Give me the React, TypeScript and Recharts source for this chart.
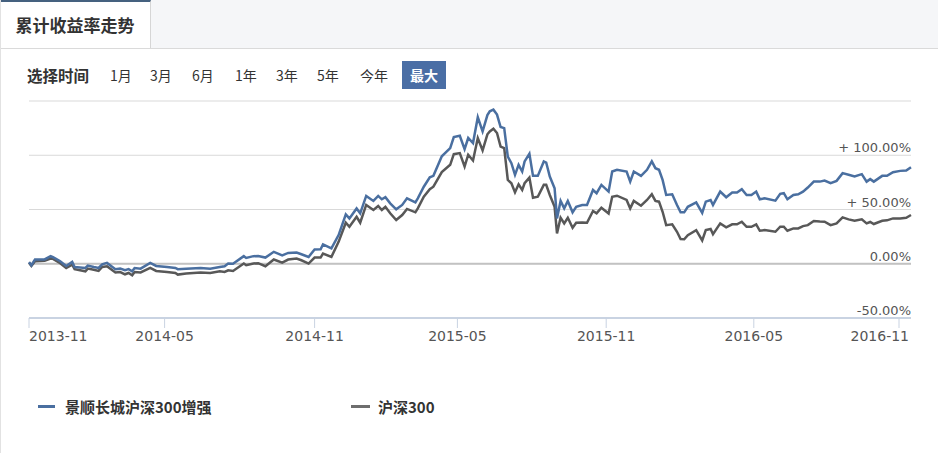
import React from 'react';
import { LineChart, Line, XAxis, YAxis, CartesianGrid, ReferenceLine } from 'recharts';

// trading-day index since 2013-11 (x), cumulative return in % (y)
const days = [
  0, 2, 5, 13, 18, 20, 26, 31, 36, 38,
  47, 49, 54, 58, 61, 65, 72, 76, 80, 83,
  86, 88, 93, 101, 106, 115, 122, 124, 131, 143,
  151, 159, 163, 166, 170, 179, 181, 187, 191, 197,
  204, 211, 216, 223, 227, 233, 238, 243, 245, 252,
  258, 264, 267, 273, 276, 281, 287, 291, 294, 297,
  301, 306, 311, 315, 322, 324, 329, 334, 337, 344,
  351, 354, 359, 363, 366, 370, 374, 378, 382, 384,
  387, 390, 393, 396, 399, 402, 405, 408, 411, 413,
  417, 420, 424, 429, 431, 434, 438, 440, 443, 446,
  449, 453, 456, 461, 465, 470, 473, 477, 483, 486,
  490, 498, 501, 504, 510, 515, 519, 522, 525, 528,
  531, 536, 540, 543, 546, 549, 556, 561, 564, 568,
  570, 576, 581, 586, 590, 594, 598, 602, 606, 609,
  613, 622, 626, 629, 632, 637, 641, 645, 649, 654,
  659, 663, 668, 673, 678, 683, 688, 694, 698, 701,
  704, 711, 715, 720, 726, 731, 735,
];

const fundReturn = [
  1.5, -1.4, 4, 4, 7, 6, 2.3, -2, 1.7, -3,
  -3.9, -1.7, -3, -3.9, -0.5, 0.8, -5, -4.5, -6, -5,
  -7, -3.9, -4.5, 0.8, -2, -3, -3.9, -5, -4.5, -3.9,
  -4.5, -3, -2.3, 0.2, 0, 7, 5.4, 7, 7.2, 5.7,
  11, 7.8, 10, 10.4, 8.8, 6.3, 13.1, 13.4, 17.8, 14.1,
  26.4, 45.5, 41.8, 51, 46.5, 62.5, 57.9, 62.5, 59.4, 61.3,
  55.7, 50.2, 54.2, 60.3, 56.6, 60.3, 71, 79.7, 81, 99,
  106.6, 116.8, 118, 105.6, 115.9, 111.2, 135, 122, 137, 140.5,
  142, 137.5, 126, 125, 98.8, 92.7, 81.9, 91.2, 85, 94.3,
  101.4, 81, 81, 94.3, 93.3, 80.4, 69.6, 41.8, 57.9, 51,
  57.9, 47.4, 52.5, 54.2, 54.2, 68, 65, 72.7, 66.5, 85,
  86.6, 85, 75.7, 85, 81, 86.6, 94.3, 88.1, 86.6, 77.3,
  63.4, 64, 54.2, 47.4, 47.4, 52.5, 56.6, 46.8, 57.2, 58.8,
  54.2, 66.5, 61.3, 65.6, 65.6, 68.7, 63.4, 63.4, 66.5, 59.4,
  60.3, 58.1, 64.4, 65, 59.4, 63.4, 64, 66.5, 70.2, 75.7,
  75.7, 76.7, 74.2, 76.4, 83.5, 82, 80.4, 82.6, 75.7, 78,
  75.7, 81, 81, 84.4, 85.6, 85.9, 89,
];

const indexReturn = [
  1, -2, 2.3, 2.8, 4.8, 4.5, 0.5, -3.9, -0.8, -5,
  -7, -4.5, -5.5, -6.6, -3, -2.3, -8, -7.6, -9.7, -8.5,
  -10.6, -7.6, -8, -3.9, -6.6, -7.6, -8.5, -10, -9, -8,
  -8.5, -7, -7.6, -6, -6.6, 0.2, -1.4, 0.2, 0.5, -2.3,
  3.9, 1.1, 3.9, 4.8, 3.2, 0.2, 5.7, 5.7, 9.4, 6.3,
  20.2, 37.8, 34.1, 43.3, 37.8, 54.2, 49.5, 53.2, 49.5, 52.5,
  46.5, 40.3, 44.9, 50.5, 47.4, 51, 61.8, 68.7, 71, 84.4,
  91.2, 101, 102, 89.6, 100.5, 95.2, 115.9, 104.5, 119.3, 122,
  124.5, 120.5, 108, 106.6, 77.3, 74.2, 65.8, 73.2, 68, 74.2,
  79.4, 60.8, 61.8, 72.7, 72.7, 63.4, 52.5, 27.9, 42.4, 37.2,
  42.4, 33.1, 37.8, 38, 37.8, 48.6, 46.4, 51.7, 46.4, 61.8,
  62.7, 58.8, 51, 57.9, 53.5, 58.8, 64, 57.9, 57.2, 47.9,
  35.6, 36.3, 29.5, 22.7, 22.5, 26.4, 31, 21.5, 31, 32,
  27.3, 37.2, 33.5, 36.3, 36.3, 38.7, 34.1, 34.1, 36.3, 30.4,
  31, 29.5, 34.1, 34.1, 30.4, 32.6, 32.6, 34.7, 35.6, 39.4,
  38.9, 38.7, 35.6, 37.2, 42.7, 40.9, 39.6, 40.9, 37.2, 38.5,
  36.6, 39.6, 40, 41.8, 41.8, 42.4, 44.9,
];

const tickDays = [0, 113, 238, 357, 481, 604, 725];
const tickLabels = ['2013-11', '2014-05', '2014-11', '2015-05', '2015-11', '2016-05', '2016-11'];
const yTicks = [-50, 0, 50, 100, 150];
const seriesNames = ['景顺长城沪深300增强', '沪深300'];
const periods = ['1月', '3月', '6月', '1年', '3年', '5年', '今年', '最大'];

const BLUE = '#4a6fa0';
const GRAY = '#585858';
const CHART_W = 938;
const MARGIN = { top: 101, right: 26, left: 29, bottom: 12 };
const PLOT_RIGHT = 911;
const LABEL_FONT = '"DejaVu Sans", Verdana, sans-serif';
const CJK_FONT = '"Noto Sans CJK SC", "Noto Sans", sans-serif';

const data = days.map((d, i) => ({ day: d, fund: fundReturn[i], hs300: indexReturn[i] }));

const formatY = (v: number) => {
  if (v === 150) return '';
  if (v > 0) return `+ ${v.toFixed(2)}%`;
  return `${v.toFixed(2)}%`;
};

const XTick = (props: any) => {
  const { x, y, payload, index } = props;
  const label = tickLabels[tickDays.indexOf(payload.value)] || '';
  let anchor: 'start' | 'middle' | 'end' = 'middle';
  let tx = x;
  if (index === 0) anchor = 'start';
  if (index === tickDays.length - 1) {
    anchor = 'end';
    tx = PLOT_RIGHT - 2;
  }
  return (
    <text x={tx} y={y + 11} textAnchor={anchor} fill="#555" fontSize={14} fontFamily={LABEL_FONT}>
      {label}
    </text>
  );
};

const YTick = (props: any) => {
  const { y, payload } = props;
  return (
    <text x={PLOT_RIGHT} y={y - 3} textAnchor="end" fill="#555" fontSize={13} fontFamily={LABEL_FONT}>
      {formatY(payload.value)}
    </text>
  );
};

const periodLeft = [110, 150, 192, 235, 276, 317, 360, 402];

export default function App() {
  return (
    <div style={{ position: 'absolute', left: 0, top: 0, width: 938, height: 453, background: '#fff', overflow: 'hidden', fontFamily: CJK_FONT }}>
      {/* header strip */}
      <div style={{ position: 'absolute', left: 0, top: 0, width: 938, height: 48, background: '#f5f6f8', borderBottom: '1px solid #dadada' }} />
      <div style={{ position: 'absolute', left: 0, top: 0, width: 151, height: 48, background: '#fff', borderTop: '2px solid #45617f', borderRight: '1px solid #d6d6d6', boxSizing: 'border-box', textAlign: 'center', lineHeight: '46px', fontSize: 17, fontWeight: 700, color: '#333' }}>
        累计收益率走势
      </div>
      <div style={{ position: 'absolute', left: 0, top: 0, width: 1, height: 453, background: '#e2e2e2' }} />

      {/* period selector */}
      <div style={{ position: 'absolute', left: 27, top: 61, lineHeight: '28px', fontSize: 15.5, fontWeight: 700, color: '#333' }}>选择时间</div>
      {periods.map((p, i) => {
        const active = i === periods.length - 1;
        return (
          <div
            key={p}
            style={{
              position: 'absolute',
              left: periodLeft[i],
              top: 61,
              height: 28,
              lineHeight: '28px',
              fontSize: 14,
              color: active ? '#fff' : '#333',
              background: active ? '#4a6ea5' : 'transparent',
              padding: active ? '0 8px' : 0,
              fontWeight: active ? 700 : 400,
            }}
          >
            {p}
          </div>
        );
      })}

      {/* chart */}
      <div style={{ position: 'absolute', left: 0, top: 0 }}>
        <LineChart width={CHART_W} height={360} data={data} margin={MARGIN}>
          <CartesianGrid horizontal vertical={false} stroke="#d9d9d9" />
          <XAxis
            dataKey="day"
            type="number"
            domain={[0, 735]}
            ticks={tickDays}
            interval={0}
            height={30}
            tickSize={10}
            tickLine={{ stroke: '#c9d3e2' }}
            axisLine={{ stroke: '#c9d3e2', strokeWidth: 2 }}
            tick={<XTick />}
          />
          <YAxis
            orientation="right"
            type="number"
            domain={[-50, 150]}
            ticks={yTicks}
            interval={0}
            width={1}
            axisLine={false}
            tickLine={false}
            tick={<YTick />}
          />
          <ReferenceLine y={0} stroke="#c2c2c2" strokeWidth={2} />
          <Line type="linear" dataKey="hs300" stroke={GRAY} strokeWidth={2.5} dot={false} isAnimationActive={false} />
          <Line type="linear" dataKey="fund" stroke={BLUE} strokeWidth={2.5} dot={false} isAnimationActive={false} />
        </LineChart>
      </div>

      {/* legend */}
      <div style={{ position: 'absolute', left: 38, top: 395, height: 22, display: 'flex', alignItems: 'center' }}>
        <div style={{ width: 17, height: 3, background: BLUE, marginRight: 10 }} />
        <span style={{ fontSize: 15, fontWeight: 700, color: '#333' }}>{seriesNames[0]}</span>
      </div>
      <div style={{ position: 'absolute', left: 351, top: 395, height: 22, display: 'flex', alignItems: 'center' }}>
        <div style={{ width: 19, height: 3, background: '#6e6e6e', marginRight: 8 }} />
        <span style={{ fontSize: 15, fontWeight: 700, color: '#333' }}>{seriesNames[1]}</span>
      </div>
    </div>
  );
}
